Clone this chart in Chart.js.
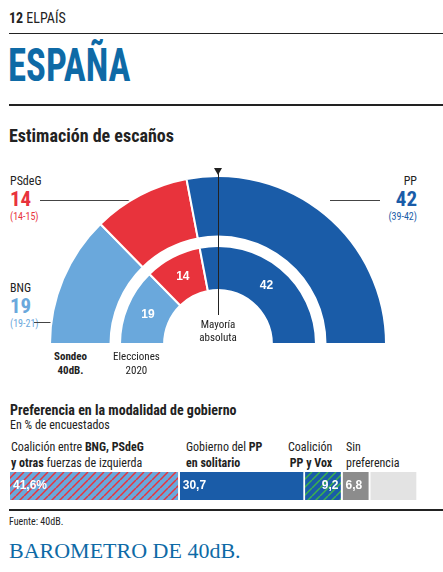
<!DOCTYPE html>
<html><head><meta charset="utf-8">
<script src="https://cdn.jsdelivr.net/npm/chart.js@4"></script>
<style>
body{margin:0;width:443px;height:572px;background:#fff;font-family:"Liberation Sans Narrow","Roboto Condensed","Liberation Sans",sans-serif;position:relative;overflow:hidden;color:#222}
.a{position:absolute;white-space:nowrap}
.hr{position:absolute;left:9px;right:0;background:#222}
</style></head><body>
<div class="a" style="left:9px;top:10px;font-size:14px"><b>12</b> ELPAÍS</div>
<div class="hr" style="top:33px;height:1px"></div>
<div class="a" style="left:8px;top:38px;font-size:46px;font-weight:bold;color:#0e6aa6;transform:scaleX(0.8);transform-origin:left">ESPAÑA</div>
<div class="hr" style="top:104px;height:2px"></div>
<div class="a" style="left:9px;top:125px;font-size:18px;font-weight:bold">Estimación de escaños</div>

<div class="a" style="left:10px;top:174px;font-size:12px">PSdeG</div>
<div class="a" style="left:10px;top:187px;font-size:21px;font-weight:bold;color:#e8333c">14</div>
<div class="a" style="left:10px;top:211px;font-size:10px;color:#e8333c">(14-15)</div>
<div class="a" style="left:10px;top:281px;font-size:12px">BNG</div>
<div class="a" style="left:10px;top:294px;font-size:21px;font-weight:bold;color:#6aa8dc">19</div>
<div class="a" style="left:10px;top:318px;font-size:10px;color:#6aa8dc">(19-21)</div>
<div class="a" style="right:26px;top:174px;font-size:12px">PP</div>
<div class="a" style="right:26px;top:187px;font-size:21px;font-weight:bold;color:#1a5ca8">42</div>
<div class="a" style="right:26px;top:211px;font-size:10px;color:#1a5ca8">(39-42)</div>
<div class="a" style="left:40px;top:200px;width:115px;height:1px;background:#444"></div>
<div class="a" style="left:34px;top:322px;width:30px;height:1px;background:#444"></div>
<div class="a" style="left:330px;top:200px;width:50px;height:1px;background:#444"></div>

<div class="a" style="left:48px;top:175px;width:340px;height:170px"><canvas id="d"></canvas></div>
<div class="a" style="left:118px;top:245px;width:200px;height:100px"><canvas id="d2"></canvas></div>
<div class="a" style="left:218px;top:172px;width:1px;height:143px;background:#222"></div>
<div class="a" style="left:214px;top:168px;width:0;height:0;border-left:4px solid transparent;border-right:4px solid transparent;border-top:7px solid #222"></div>
<div class="a" style="left:218px;top:318px;transform:translateX(-50%);font-size:11px;text-align:center;line-height:13px">Mayoría<br>absoluta</div>
<div class="a" style="left:54px;top:350px;font-size:11px;font-weight:bold;text-align:center;line-height:14px">Sondeo<br>40dB.</div>
<div class="a" style="left:113px;top:350px;font-size:11px;text-align:center;line-height:14px">Elecciones<br>2020</div>

<div class="a" style="left:10px;top:402px;font-size:14px;font-weight:bold">Preferencia en la modalidad de gobierno</div>
<div class="a" style="left:10px;top:418px;font-size:12px">En % de encuestados</div>
<div class="a" style="left:11px;top:439px;font-size:12px;line-height:16px">Coalición entre <b>BNG, PSdeG</b><br><b>y otras</b> fuerzas de izquierda</div>
<div class="a" style="left:186px;top:439px;font-size:12px;line-height:16px">Gobierno del <b>PP</b><br><b>en solitario</b></div>
<div class="a" style="left:288px;top:439px;font-size:12px;line-height:16px;text-align:right">Coalición<br><b>PP y Vox</b></div>
<div class="a" style="left:346px;top:439px;font-size:12px;line-height:16px">Sin<br>preferencia</div>
<div class="a" style="left:0;top:472px;width:443px;height:28px"><canvas id="b"></canvas></div>
<div class="hr" style="top:509px;height:2px"></div>
<div class="a" style="left:9px;top:516px;font-size:10px">Fuente: 40dB.</div>
<div class="a" style="left:9px;top:538px;font-size:22px;color:#0e6aa6;font-family:'Liberation Serif',serif">BAROMETRO DE 40dB.</div>

<script>
const parties=["BNG","PSdeG","PP"];
const seatsPoll=[19,14,42];
const seats2020=[19,14,42];
const partyColors=["#6aa8dc","#e8333c","#1a5ca8"];
const prefCats=["Coalición izquierda","PP en solitario","PP y Vox","Sin preferencia","Resto"];
const prefVals=[41.6,30.7,9.2,6.8,11.7];
const prefLabels=["41,6%","30,7","9,2","6,8",""];

const base={animation:false,responsive:true,maintainAspectRatio:false,rotation:-90,circumference:180,
  layout:{padding:0},plugins:{legend:{display:false},tooltip:{enabled:false}}};
new Chart(document.getElementById('d'),{type:'doughnut',
 data:{labels:parties,datasets:[{data:seatsPoll,backgroundColor:partyColors,borderColor:'#fff',borderWidth:2}]},
 options:Object.assign({},base,{cutout:'64%'})});
new Chart(document.getElementById('d2'),{type:'doughnut',
 data:{labels:parties,datasets:[{data:seats2020,backgroundColor:partyColors,borderColor:'#fff',borderWidth:2}]},
 options:Object.assign({},base,{cutout:'55%'}),
 plugins:[{id:'lbl',afterDatasetsDraw(c){const ctx=c.ctx;const m=c.getDatasetMeta(0);ctx.save();ctx.fillStyle='#fff';ctx.font='bold 12px "Liberation Sans Narrow",sans-serif';ctx.textAlign='center';ctx.textBaseline='middle';
  m.data.forEach((a,i)=>{const p=a.tooltipPosition();ctx.fillText(seats2020[i],p.x,p.y);});ctx.restore();}}]
});

function stripes(c1,c2){const cv=document.createElement('canvas');cv.width=8;cv.height=8;const x=cv.getContext('2d');x.fillStyle=c1;x.fillRect(0,0,8,8);x.strokeStyle=c2;x.lineWidth=1.5;
 for(let k=-8;k<=8;k+=8){x.beginPath();x.moveTo(k,8);x.lineTo(k+8,0);x.stroke();}return x.createPattern(cv,'repeat');}
const prefColors=[stripes('#6aa8dc','#e8333c'),'#1a5ca8',stripes('#1a5ca8','#3cb34a'),'#8c8c8c','#e3e3e3'];
new Chart(document.getElementById('b'),{type:'bar',
 data:{labels:[''],datasets:prefVals.map((v,i)=>({data:[v],backgroundColor:prefColors[i],borderColor:'#fff',borderWidth:{left:0,right:2,top:0,bottom:0},borderSkipped:false,barPercentage:1,categoryPercentage:1}))},
 options:{indexAxis:'y',animation:false,responsive:true,maintainAspectRatio:false,layout:{padding:{left:10,right:25,top:0,bottom:0}},
  scales:{x:{stacked:true,min:0,max:100,display:false},y:{stacked:true,display:false}},plugins:{legend:{display:false},tooltip:{enabled:false}}},
 plugins:[{id:'t',afterDatasetsDraw(c){const ctx=c.ctx;ctx.save();ctx.fillStyle='#fff';ctx.font='bold 12px "Liberation Sans Narrow",sans-serif';ctx.textBaseline='middle';
  c.data.datasets.forEach((d,i)=>{const e=c.getDatasetMeta(i).data[0];if(!prefLabels[i])return;
   if(i===2){ctx.textAlign='right';ctx.fillText(prefLabels[i],e.x-4,e.y);}else{ctx.textAlign='left';ctx.fillText(prefLabels[i],e.base+3,e.y);}});ctx.restore();}}]
});
</script></body></html>
